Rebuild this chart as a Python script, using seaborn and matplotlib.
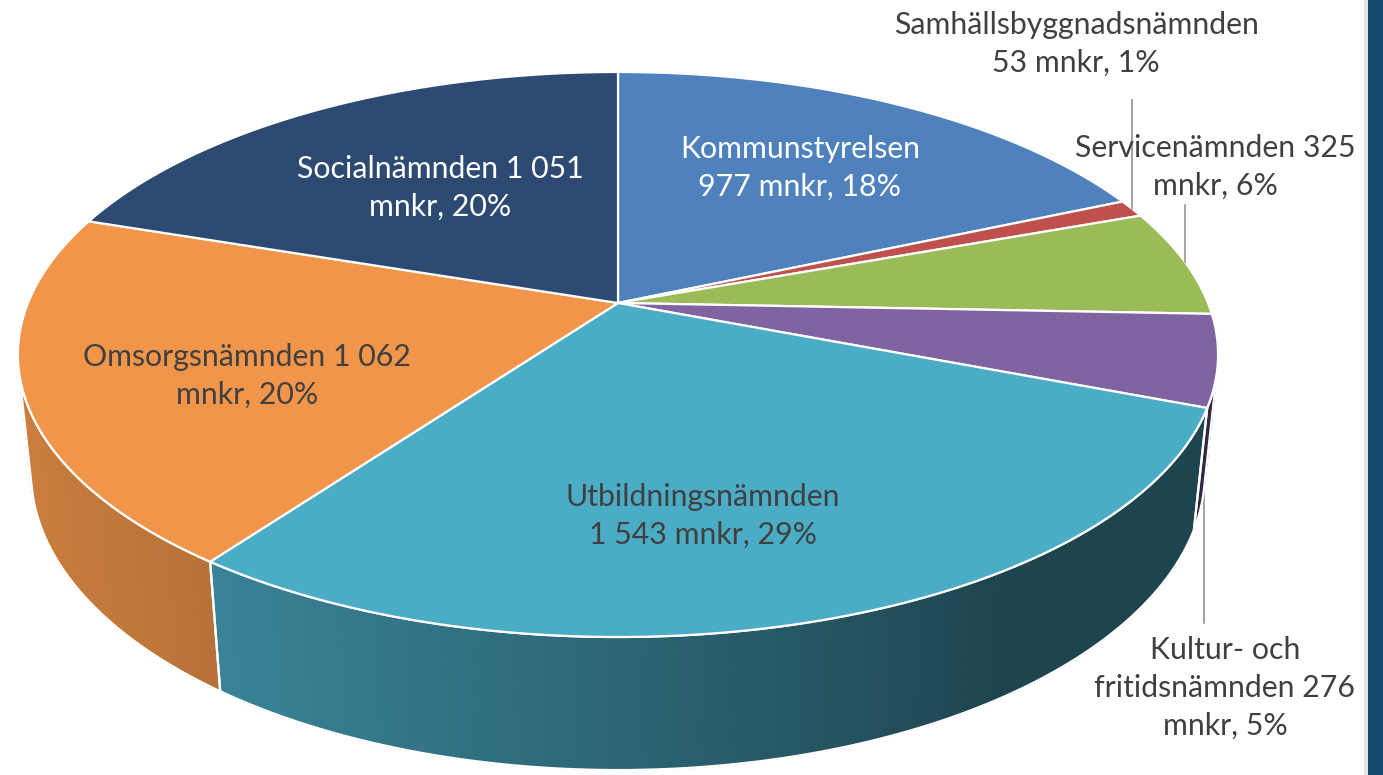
import numpy as np
import matplotlib
matplotlib.use("Agg")
import matplotlib.pyplot as plt
import seaborn as sns
from matplotlib.patches import Polygon, Rectangle

# ---------------- data ----------------
names = ["Kommunstyrelsen", "Samhällsbyggnadsnämnden", "Servicenämnden",
         "Kultur- och fritidsnämnden", "Utbildningsnämnden", "Omsorgsnämnden",
         "Socialnämnden"]
values = [977, 53, 325, 276, 1543, 1062, 1051]
hex_colors = ["#4F81BD", "#C0504D", "#9BBB59", "#8064A2", "#4BACC6", "#F0954A", "#2C4A72"]
label_templates = ["{n}\n{v} mnkr, {p}%",
                   "{n}\n{v} mnkr, {p}%",
                   "{n} {v}\nmnkr, {p}%",
                   "Kultur- och\nfritidsnämnden {v}\nmnkr, {p}%",
                   "{n}\n{v} mnkr, {p}%",
                   "{n} {v}\nmnkr, {p}%",
                   "{n} {v}\nmnkr, {p}%"]

# ---------------- style ----------------
sns.set_theme(style="white")
plt.rcParams["font.family"] = ["Lato", "DejaVu Sans"]
palette = sns.color_palette(hex_colors)

W, H = 1383, 775
fig = plt.figure(figsize=(W / 100, H / 100), dpi=100)
ax = fig.add_axes([0, 0, 1, 1])
ax.set_xlim(0, W)
ax.set_ylim(H, 0)
ax.axis("off")

# ---------------- 3D perspective projection ----------------
cx, cy = 618.0, 303.0      # apex on screen
S = 590.0                  # radius scale
se = 0.4629                # sin(elevation)
ce = np.sqrt(1 - se ** 2)
Dc = 4.862                 # camera distance (radius units)
thick = 0.2273             # pie thickness (radius units)


def proj(theta_deg, r=1.0, z=0.0):
    t = np.radians(np.asarray(theta_deg, dtype=float))
    x = r * np.sin(t)
    y = r * np.cos(t)
    v = y * se + z * ce
    w = Dc + y * ce - z * se
    return cx + S * Dc * x / w, cy - S * Dc * v / w


total = float(sum(values))
fracs = [v / total for v in values]
bounds = np.concatenate([[0], np.cumsum(fracs)]) * 360.0
pcts = [int(round(f * 100)) for f in fracs]

# visible side range (front-facing)
lim = np.degrees(np.arccos(-1.0 / (Dc * ce)))
vis_a, vis_b = lim, 360 - lim


def shade(X):
    t = np.clip((1000 - X) / 980.0, 0, 1)
    return 0.40 + 0.44 * t ** 0.9


# side walls with gradient
for i, col in enumerate(palette):
    a, b = max(bounds[i], vis_a), min(bounds[i + 1], vis_b)
    if b <= a:
        continue
    th = np.linspace(a, b, max(int((b - a) / 0.4), 2) + 1)
    xt, yt = proj(th, 1, 0)
    xb, yb = proj(th, 1, -thick)
    for k in range(len(th) - 1):
        f = shade(0.5 * (xt[k] + xt[k + 1]))
        c = tuple(np.clip(np.array(col) * f, 0, 1))
        poly = [(xt[k], yt[k]), (xt[k + 1], yt[k + 1]),
                (xb[k + 1], yb[k + 1]), (xb[k], yb[k])]
        ax.add_patch(Polygon(poly, closed=True, facecolor=c, edgecolor=c,
                             lw=0.8, zorder=1))
    outline = list(zip(xt, yt)) + list(zip(xb[::-1], yb[::-1]))
    ax.add_patch(Polygon(outline, closed=True, facecolor="none",
                         edgecolor="white", lw=1.6, zorder=2))

# top faces
for i, col in enumerate(palette):
    a, b = bounds[i], bounds[i + 1]
    th = np.linspace(a, b, max(int((b - a) / 0.5), 2) + 1)
    xt, yt = proj(th, 1, 0)
    pts = [(cx, cy)] + list(zip(xt, yt))
    ax.add_patch(Polygon(pts, closed=True, facecolor=col, edgecolor="white",
                         lw=1.6, joinstyle="round", zorder=3))

# ---------------- labels ----------------
dark = "#404040"
label_pos = [(800, 168), (1076, 44), (1215, 167), (1225, 688),
             (703, 516), (247, 376), (440, 188)]
label_colors = ["white", dark, dark, dark, dark, dark, "white"]


def fmt(v):
    return f"{v:,}".replace(",", " ")


for i in range(len(values)):
    txt = label_templates[i].format(n=names[i], v=fmt(values[i]), p=pcts[i])
    ax.text(label_pos[i][0], label_pos[i][1], txt, ha="center", va="center",
            fontsize=21.8, color=label_colors[i], linespacing=1.42, zorder=5)

# leader lines for small slices
lc = "#A6A6A6"
mid1 = 0.5 * (bounds[1] + bounds[2])
x1, y1 = proj(mid1, 1, 0)
ax.plot([x1, x1], [y1, 100], color=lc, lw=1.5, zorder=4)
mid2 = 0.5 * (bounds[2] + bounds[3])
x2, y2 = proj(mid2, 1, 0)
ax.plot([x2, x2], [y2, 205], color=lc, lw=1.5, zorder=4)
mid3 = 0.5 * (max(bounds[3], vis_a) + bounds[4])
x3, y3 = proj(mid3, 1, -0.7 * thick)
ax.plot([x3, x3], [y3, 623], color=lc, lw=1.5, zorder=0.5)

# right frame strip
ax.add_patch(Rectangle((1364, 0), 4, H, facecolor="#E3E3E3", edgecolor="none", zorder=6))
ax.add_patch(Rectangle((1368, 0), W - 1368, H, facecolor="#154A6E", edgecolor="none", zorder=6))

fig.savefig("out.png", dpi=100)
